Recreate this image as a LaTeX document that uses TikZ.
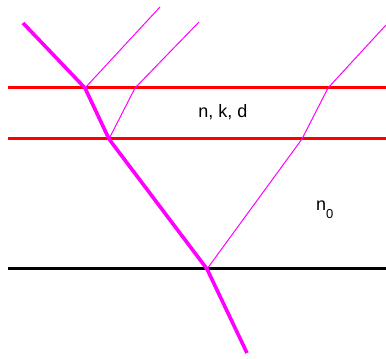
\documentclass[tikz,border=0pt]{standalone}
\usepackage{fontspec}
\setmainfont{Liberation Sans}
\begin{document}
\begin{tikzpicture}[x=1pt,y=1pt,
  redline/.style={draw={rgb,255:red,255;green,0;blue,0},line width=3pt},
  blackline/.style={draw=black,line width=3pt},
  thickray/.style={draw={rgb,255:red,255;green,0;blue,255},line width=3.6pt,line join=round},
  thinray/.style={draw={rgb,255:red,255;green,0;blue,255},line width=1pt,line join=round},
  lbl/.style={font=\fontsize{18}{20}\selectfont,inner sep=0pt}]
\useasboundingbox (0,0) rectangle (386,359);
% interfaces
\coordinate (L1a) at (8,271);   \coordinate (L1b) at (386,271);
\coordinate (L2a) at (8,220);   \coordinate (L2b) at (386,220);
\coordinate (L3a) at (8,90);    \coordinate (L3b) at (386,90);
\draw[redline] (L1a) -- (L1b);
\draw[redline] (L2a) -- (L2b);
\draw[blackline] (L3a) -- (L3b);
% ray points
\coordinate (A) at (23,336);
\coordinate (P1) at (85,271);
\coordinate (P2) at (109,220);
\coordinate (P3) at (207,90);
\coordinate (E) at (247,6);
\coordinate (T1) at (160,352);
\coordinate (Q1) at (135,271);
\coordinate (T2) at (199,337);
\coordinate (R2) at (302,220);
\coordinate (R1) at (328,271);
\coordinate (T3) at (386,334);
\draw[thinray] (P1) -- (T1);
\draw[thinray] (P2) -- (Q1) -- (T2);
\draw[thinray] (P3) -- (R2) -- (R1) -- (T3);
\draw[thickray] (A) -- (P1) -- (P2) -- (P3) -- (E);
% labels
\node[lbl,anchor=base] (nkd) at (223,241) {n, k, d};
\node[lbl,anchor=base west] (n0) at (316,148) {n\raisebox{-8pt}{\fontsize{13}{13}\selectfont 0}};
\end{tikzpicture}
\end{document}
